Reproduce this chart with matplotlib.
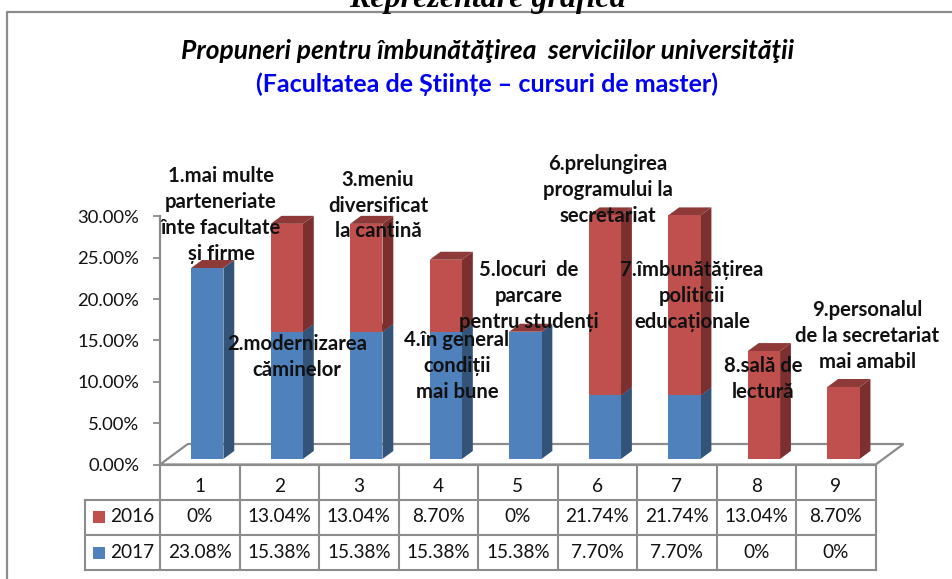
import matplotlib
matplotlib.use("Agg")
import matplotlib.pyplot as plt
from matplotlib.patches import Polygon, Rectangle

plt.rcParams['font.family'] = ['Lato', 'DejaVu Sans']

categories = ['1', '2', '3', '4', '5', '6', '7', '8', '9']
series_2016 = [0, 13.04, 13.04, 8.70, 0, 21.74, 21.74, 13.04, 8.70]
series_2017 = [23.08, 15.38, 15.38, 15.38, 15.38, 7.70, 7.70, 0, 0]
y_ticks = [0, 5, 10, 15, 20, 25, 30]
main_title = 'Propuneri pentru îmbunătăţirea  serviciilor universităţii'
sub_title = '(Facultatea de Științe – cursuri de master)'
page_title = 'Reprezentare grafică'
notes = [
    ('1.mai multe\nparteneriate\nînte facultate\nși firme', 221, 215),
    ('2.modernizarea\ncăminelor', 297, 357),
    ('3.meniu\ndiversificat\nla cantină', 378, 205.5),
    ('4.în general\ncondiții\nmai bune', 457, 366),
    ('5.locuri  de\nparcare\npentru studenți', 529, 296),
    ('6.prelungirea\nprogramului la\nsecretariat', 608, 190),
    ('7.îmbunătățirea\npoliticii\neducaționale', 692, 296),
    ('8.sală de\nlectură', 763, 379),
    ('9.personalul\nde la secretariat\nmai amabil', 867.5, 336),
]

W, H = 953, 579
BLUE, BLUE_S = '#4F81BD', '#335379'
RED, RED_S, RED_T = '#C0504D', '#7B2F2E', '#8E3A38'
GREY = '#8C8C8C'

fig = plt.figure(figsize=(W / 100, H / 100), dpi=100, facecolor='white')

# overlay in pixel units for the frame, table rules and labels
px = fig.add_axes([0, 0, 1, 1], zorder=3)
px.set_xlim(0, W); px.set_ylim(H, 0); px.axis('off')
px.patch.set_alpha(0)

# plot area
L, R, Y0, Y30 = 160.0, 875.7, 464.5, 216.3
ax = fig.add_axes([L / W, 1 - Y0 / H, (R - L) / W, (Y0 - Y30) / H], zorder=2)
ax.patch.set_alpha(0)
ax.set_xlim(0.5, 9.5); ax.set_ylim(0, 30)
ux, uy = (R - L) / 9, (Y0 - Y30) / 30  # px per data unit

for s in ['top', 'right', 'bottom']:
    ax.spines[s].set_visible(False)
ax.spines['left'].set_color(GREY); ax.spines['left'].set_linewidth(1.6)
ax.set_xticks([])
ax.set_yticks(y_ticks)
ax.set_yticklabels([f'{v:.2f}%' for v in y_ticks], fontsize=13.3, color='#111111')
ax.tick_params(axis='y', length=5, width=1.3, color=GREY, pad=10)


def proj(x, y, d):
    """data point at depth d (0 front, 1 back of the floor)"""
    return x + d * 27.8 / ux, y + d * 20.5 / uy


# floor
fl = [proj(0.5, 0, 0), proj(9.5, 0, 0), proj(9.5, 0, 1), proj(0.5, 0, 1)]
ax.add_patch(Polygon(fl, closed=True, fc='white', ec=GREY, lw=1.6, clip_on=False, zorder=1))

D0, D1 = 0.27, 0.66
BW = 32.3 / ux


def box(x, y0, y1, face, side, top, z):
    xl, xr = x - BW / 2, x + BW / 2
    a = proj
    ax.add_patch(Polygon([a(xr, y0, D0), a(xr, y0, D1), a(xr, y1, D1), a(xr, y1, D0)],
                         closed=True, fc=side, ec='none', clip_on=False, zorder=z))
    ax.add_patch(Polygon([a(xl, y1, D0), a(xr, y1, D0), a(xr, y1, D1), a(xl, y1, D1)],
                         closed=True, fc=top, ec='none', clip_on=False, zorder=z))
    ax.add_patch(Polygon([a(xl, y0, D0), a(xr, y0, D0), a(xr, y1, D0), a(xl, y1, D0)],
                         closed=True, fc=face, ec='none', clip_on=False, zorder=z + 0.1))


for i, (v17, v16) in enumerate(zip(series_2017, series_2016)):
    x = i + 1
    z = 2 + i
    if v17 > 0:
        box(x, 0, v17, BLUE, BLUE_S, RED_T, z)
    if v16 > 0:
        box(x, v17, v17 + v16, RED, RED_S, RED_T, z + 0.2)

# table
xs = [L + (R - L) * k / 9 for k in range(10)]
rows = [465.0, 499.5, 535.0, 570.0]
TL = 85.0
lkw = dict(color=GREY, lw=1.5, solid_capstyle='projecting')
px.plot([L, R], [rows[0], rows[0]], **lkw)
for r in rows[1:]:
    px.plot([TL, R], [r, r], **lkw)
for xv in xs:
    px.plot([xv, xv], [rows[0], rows[3]], **lkw)
px.plot([TL, TL], [rows[1], rows[3]], **lkw)

tkw = dict(ha='center', va='center', fontsize=13.7, color='#111111')
fmt = lambda v: '0%' if v == 0 else f'{v:.2f}%'
for i, c in enumerate(categories):
    cx = (xs[i] + xs[i + 1]) / 2
    px.text(cx, 487, c, **tkw)
    px.text(cx, 517, fmt(series_2016[i]), **tkw)
    px.text(cx, 553, fmt(series_2017[i]), **tkw)
for yc, lab, col in [(517, '2016', RED), (553, '2017', BLUE)]:
    px.add_patch(Rectangle((93, yc - 6), 12, 12, fc=col, ec='none'))
    px.text(110, yc, lab, ha='left', va='center', fontsize=13.7, color='#111111')

# chart frame
px.plot([7.5, 7.5, 953], [579, 12, 12], color=GREY, lw=1.6, solid_capstyle='butt')

# titles
px.text(487, -1, page_title, ha='center', va='center', fontsize=23, fontweight='bold',
        fontstyle='italic', family='Liberation Serif', color='black')
px.text(488, 51, main_title, ha='center', va='center', fontsize=19, fontweight='bold',
        fontstyle='italic', color='black')
px.text(487, 84, sub_title, ha='center', va='center', fontsize=18, fontweight='bold',
        color='#0000F0')

for txt, x, y in notes:
    px.text(x, y, txt, ha='center', va='center', fontsize=14.6, fontweight='bold',
            color='#111111', linespacing=1.37)

fig.savefig('out.png', dpi=100)
